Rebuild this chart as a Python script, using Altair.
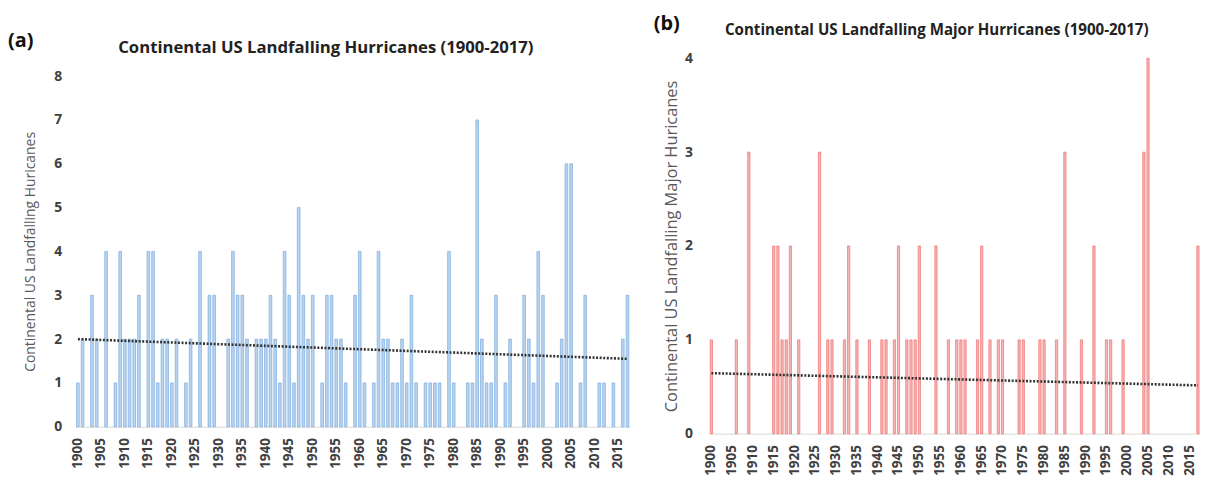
import altair as alt
import pandas as pd

years = list(range(1900, 2018))

# Continental US landfalling hurricanes per year (1900-2017)
all_counts = [
    1, 2, 0, 3, 2, 0, 4, 0, 1, 4,   # 1900s
    2, 2, 2, 3, 0, 4, 4, 1, 2, 2,   # 1910s
    1, 2, 0, 1, 2, 0, 4, 0, 3, 3,   # 1920s
    0, 0, 2, 4, 3, 3, 2, 0, 2, 2,   # 1930s
    2, 3, 2, 1, 4, 3, 1, 5, 3, 2,   # 1940s
    3, 0, 1, 3, 3, 2, 2, 1, 0, 3,   # 1950s
    4, 1, 0, 1, 4, 2, 2, 1, 1, 2,   # 1960s
    1, 3, 1, 0, 1, 1, 1, 1, 0, 4,   # 1970s
    1, 0, 0, 1, 1, 7, 2, 1, 1, 3,   # 1980s
    0, 1, 2, 0, 0, 3, 2, 1, 4, 3,   # 1990s
    0, 0, 1, 2, 6, 6, 0, 1, 3, 0,   # 2000s
    0, 1, 1, 0, 1, 0, 2, 3,         # 2010-2017
]

# Continental US landfalling major hurricanes per year (1900-2017)
major_counts = [
    1, 0, 0, 0, 0, 0, 1, 0, 0, 3,
    0, 0, 0, 0, 0, 2, 2, 1, 1, 2,
    0, 1, 0, 0, 0, 0, 3, 0, 1, 1,
    0, 0, 1, 2, 0, 1, 0, 0, 1, 0,
    0, 1, 1, 0, 1, 2, 0, 1, 1, 1,
    2, 0, 0, 0, 2, 0, 0, 1, 0, 1,
    1, 1, 0, 0, 1, 2, 0, 1, 0, 1,
    1, 0, 0, 0, 1, 1, 0, 0, 0, 1,
    1, 0, 0, 1, 0, 3, 0, 0, 0, 1,
    0, 0, 2, 0, 0, 1, 1, 0, 0, 1,
    0, 0, 0, 0, 3, 4, 0, 0, 0, 0,
    0, 0, 0, 0, 0, 0, 0, 2,
]

tick_years = list(range(1900, 2016, 5))

trend_years = [1900, 2017]
trend_all = [2.0, 1.55]
trend_major = [0.645, 0.515]

title_a = "Continental US Landfalling Hurricanes (1900-2017)"
title_b = "Continental US Landfalling Major Hurricanes (1900-2017)"
ytitle_a = "Continental US Landfalling Huricanes"
ytitle_b = "Continental US Landfalling Major Huricanes"
tag_a = "(a)"
tag_b = "(b)"

FONT = "Open Sans"


def panel(counts, trend_vals, ymax, fill, stroke, width, height, y_top,
          title, title_x, title_y, title_size, tag, tag_x, tag_y,
          ytitle, ytitle_size, label_pad, title_pad, pad_inner):
    df = pd.DataFrame({"year": years, "count": counts})
    tdf = pd.DataFrame({"year": trend_years, "val": trend_vals})
    xscale = alt.Scale(domain=years, paddingInner=pad_inner, paddingOuter=pad_inner / 2)
    yscale = alt.Scale(domain=[0, ymax], range=[height, y_top], nice=False)

    bars = alt.Chart(df).mark_bar(fill=fill, stroke=stroke, strokeWidth=0.6).encode(
        x=alt.X("year:O", scale=xscale,
                axis=alt.Axis(values=tick_years, labelAngle=270, title=None,
                              ticks=False, domainColor="#d9d9d9", domainWidth=1,
                              labelFont=FONT, labelFontSize=13.5, labelFontWeight="bold",
                              labelColor="#404040", labelPadding=11)),
        y=alt.Y("count:Q", scale=yscale,
                axis=alt.Axis(values=list(range(ymax + 1)), format="d", title=ytitle,
                              grid=False, domain=False, ticks=False, labelFont=FONT,
                              labelFontSize=14, labelFontWeight="bold",
                              labelColor="#404040", labelPadding=label_pad,
                              titleFont=FONT, titleFontSize=ytitle_size,
                              titleFontWeight="normal", titleColor="#595959",
                              titlePadding=title_pad)),
    ).transform_filter(alt.datum.count > 0)
    trend = alt.Chart(tdf).mark_line(color="#333333", strokeDash=[2, 1.6], strokeWidth=2.6).encode(
        x=alt.X("year:O", scale=xscale),
        y=alt.Y("val:Q", scale=yscale),
    )
    ttl = alt.Chart(pd.DataFrame({"t": [title]})).mark_text(
        font=FONT, fontSize=title_size, fontWeight="bold", color="#222222",
        align="center", baseline="middle").encode(
        text="t:N", x=alt.value(title_x), y=alt.value(title_y))
    tg = alt.Chart(pd.DataFrame({"t": [tag]})).mark_text(
        font=FONT, fontSize=20, fontWeight="bold", color="#111111",
        align="left", baseline="middle").encode(
        text="t:N", x=alt.value(tag_x), y=alt.value(tag_y))
    return alt.layer(bars, trend, ttl, tg).properties(width=width, height=height)


left = panel(all_counts, trend_all, 8, "#b7d3f0", "#6fa3da", 558, 420, 67,
             title_a, 252, 39, 16.8, tag_a, -68, 32,
             ytitle_a, 14, 14, 16, 0.42)
right = panel(major_counts, trend_major, 4, "#f7b4b4", "#ee6262", 494, 427, 49,
              title_b, 229, 21, 15.2, tag_b, -56, 15,
              ytitle_b, 16.5, 17, 5, 0.45)

chart = alt.hconcat(left, right, spacing=21).properties(padding=0).configure_view(strokeWidth=0)

chart.save("out.html", embed_options={"renderer": "svg", "actions": False})
